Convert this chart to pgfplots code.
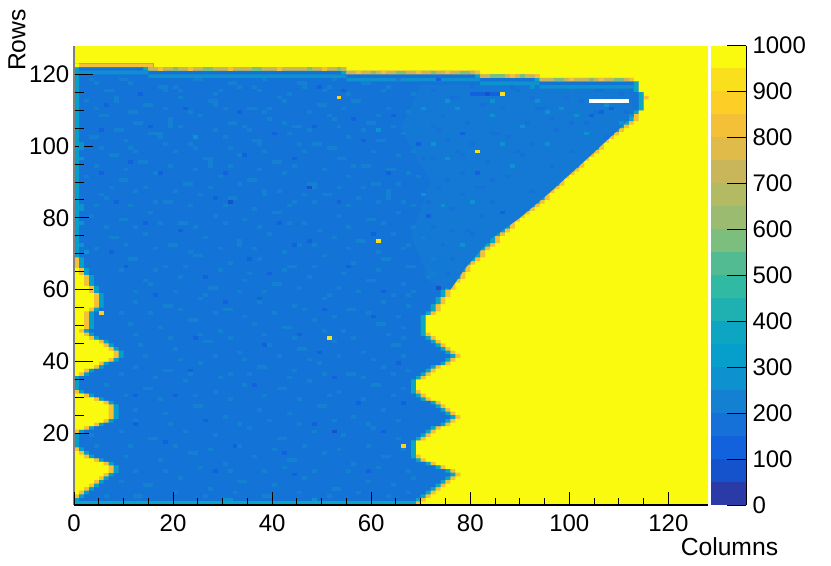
\documentclass[border=0pt]{standalone}
\usepackage{fontspec}
\setmainfont{Liberation Sans}
\usepackage{pgfplots}
\usepackage{pgfplotstable}
\pgfplotsset{compat=1.18}

% palette, 20 levels of 50
\definecolor{lv1}{HTML}{2A3BA8}
\definecolor{lv2}{HTML}{1553CC}
\definecolor{lv3}{HTML}{1162DC}
\definecolor{lv4}{HTML}{1571D8}
\definecolor{lv5}{HTML}{1380D2}
\definecolor{lv6}{HTML}{0D91CF}
\definecolor{lv7}{HTML}{069FCC}
\definecolor{lv8}{HTML}{0CA6C2}
\definecolor{lv9}{HTML}{1FB0B2}
\definecolor{lv10}{HTML}{30BAA4}
\definecolor{lv11}{HTML}{52BB92}
\definecolor{lv12}{HTML}{7BBE7E}
\definecolor{lv13}{HTML}{9BBC70}
\definecolor{lv14}{HTML}{B2BA64}
\definecolor{lv15}{HTML}{CAB65A}
\definecolor{lv16}{HTML}{E0BB49}
\definecolor{lv17}{HTML}{F4C037}
\definecolor{lv18}{HTML}{FDCE26}
\definecolor{lv19}{HTML}{FADF1C}
\definecolor{lv20}{HTML}{F9FA0E}
% what the fine mix of bins averages to, left and upper right
\definecolor{baseL}{HTML}{1473D7}
\definecolor{baseR}{HTML}{1479D5}

% one bin, its corner on the data point: 4.945 x 3.59 px at 0.75 pt/px
\pgfdeclareplotmark{cell}{%
  \pgfpathrectangle{\pgfpointorigin}{\pgfpoint{3.72pt}{2.7pt}}%
  \pgfusepathqfill}

% widths of the runs in each row: yellow, orange, teal, blue, teal, orange
\pgfplotstableread{
r yl og tl bl tr or
0 0 0 1 67 1 1
1 0 0 1 68 1 1
2 0 1 1 68 1 1
3 1 1 1 68 1 1
4 2 1 1 68 1 1
5 3 1 1 68 1 1
6 4 1 1 68 1 1
7 5 1 1 68 1 1
8 6 1 1 68 1 1
9 7 1 1 66 1 1
10 7 1 1 64 1 1
11 6 1 1 63 1 1
12 4 1 1 63 1 1
13 2 1 1 64 1 1
14 1 1 1 65 1 0
15 0 1 1 66 1 0
16 0 0 1 67 1 0
17 0 0 1 67 1 0
18 0 0 1 68 1 1
19 0 0 1 69 1 1
20 0 1 1 69 1 1
21 2 1 1 68 1 1
22 4 1 1 68 1 1
23 6 1 1 67 1 1
24 7 1 1 67 1 1
25 7 1 1 66 1 1
26 7 1 1 65 1 1
27 7 1 1 64 1 1
28 6 1 1 64 1 1
29 4 1 1 64 1 1
30 2 1 1 65 1 1
31 0 1 1 66 1 1
32 0 0 1 67 1 0
33 0 0 1 67 1 0
34 0 0 1 67 1 0
35 0 0 1 68 1 1
36 1 1 1 67 1 1
37 2 1 1 67 1 1
38 4 1 1 66 1 1
39 5 1 1 67 1 1
40 7 1 1 66 1 1
41 8 1 1 66 1 1
42 8 1 1 65 1 1
43 7 1 1 65 1 1
44 6 1 1 65 1 1
45 5 1 1 65 1 1
46 3 1 1 66 1 1
47 2 1 1 66 1 1
48 1 1 1 67 1 0
49 2 1 1 66 1 0
50 2 1 1 66 1 0
51 2 1 1 66 1 0
52 2 1 1 66 1 0
53 2 1 1 67 1 1
54 3 1 1 67 1 1
55 4 1 1 66 1 1
56 4 1 1 67 1 1
57 4 1 1 67 1 1
58 4 1 1 68 1 1
59 3 1 1 69 1 1
60 3 1 1 70 1 1
61 2 1 1 71 1 1
62 2 1 1 72 1 1
63 2 1 1 73 1 1
64 1 1 1 74 1 1
65 1 1 1 75 1 1
66 0 1 1 76 1 1
67 0 1 1 77 1 1
68 0 1 1 78 1 1
69 0 0 1 80 1 1
70 0 0 1 80 1 1
71 0 0 1 81 1 1
72 0 0 1 82 1 1
73 0 0 1 83 1 1
74 0 0 1 83 1 1
75 0 0 1 84 1 1
76 0 0 1 85 1 1
77 0 0 1 86 1 1
78 0 0 1 86 1 1
79 0 0 1 87 1 1
80 0 0 1 88 1 1
81 0 0 1 89 1 1
82 0 0 1 90 1 1
83 0 0 1 91 1 1
84 0 0 1 92 1 1
85 0 0 1 93 1 1
86 0 0 1 93 1 1
87 0 0 1 94 1 1
88 0 0 1 95 1 1
89 0 0 1 96 1 1
90 0 0 1 96 1 1
91 0 0 1 97 1 1
92 0 0 1 98 1 1
93 0 0 1 99 1 1
94 0 0 1 100 1 1
95 0 0 1 100 1 1
96 0 0 1 101 1 1
97 0 0 1 102 1 1
98 0 0 1 103 1 1
99 0 0 1 104 1 1
100 0 0 1 104 1 1
101 0 0 1 105 1 1
102 0 0 1 106 1 1
103 0 0 1 107 1 1
104 0 0 1 108 1 1
105 0 0 1 109 1 1
106 0 0 1 110 1 1
107 0 0 1 111 1 1
108 0 0 1 111 1 1
109 0 0 1 112 1 0
110 0 0 1 113 1 0
111 0 0 1 113 1 0
112 0 0 1 113 1 0
113 0 0 1 113 1 1
114 0 0 1 113 1 0
115 0 0 1 112 1 0
116 0 0 1 112 1 0
117 0 0 1 112 1 0
118 0 0 1 92 1 19
119 0 0 1 80 1 12
120 0 0 1 53 1 26
121 0 0 1 13 1 40
122 1 15 0 0 0 0
}\rowruns

\begin{document}
\begin{tikzpicture}
\path[use as bounding box] (0,0) rectangle (623.25pt,424.5pt);

\begin{axis}[
    at={(55.5pt,45.75pt)}, anchor=south west,
    scale only axis, width=475.5pt, height=344.55pt,
    xmin=0, xmax=128, ymin=0, ymax=128,
    axis background/.style={fill=lv20},
    axis on top,
    axis x line*=bottom, axis y line*=left,
    x axis line style={-, black, line width=0.9pt},
    y axis line style={-, gray, line width=0.9pt},
    xtick={0,20,...,120}, ytick={20,40,...,120},
    xtick style={draw=none}, minor x tick num=0,
    minor y tick num=3,
    tick align=inside,
    major tick length=14.25pt, minor tick length=7.5pt,
    ytick style={black, line width=0.7pt},
    /pgf/number format/assume math mode=true,
    tick label style={font=\fontsize{18}{20}\selectfont},
    xticklabel style={yshift=-3.5pt},
    xlabel={Columns}, ylabel={Rows},
    label style={font=\fontsize{18.5}{20}\selectfont},
    xlabel style={at={(axis description cs:1.118,-0.091)}, anchor=east},
    ylabel style={at={(axis description cs:-0.09,1.012)}, anchor=center},
  ]
  % row runs, longest first so that each one paints over the one before
  \addplot[xbar, bar shift=0pt, bar width=1.04, draw=none, fill=lv17] table[y expr=\thisrow{r}+0.5, x expr=\thisrow{yl}+\thisrow{og}+\thisrow{tl}+\thisrow{bl}+\thisrow{tr}+\thisrow{or}] {\rowruns};
  \addplot[xbar, bar shift=0pt, bar width=1.04, draw=none, fill=lv8] table[y expr=\thisrow{r}+0.5, x expr=\thisrow{yl}+\thisrow{og}+\thisrow{tl}+\thisrow{bl}+\thisrow{tr}] {\rowruns};
  \addplot[xbar, bar shift=0pt, bar width=1.04, draw=none, fill=baseL] table[y expr=\thisrow{r}+0.5, x expr=\thisrow{yl}+\thisrow{og}+\thisrow{tl}+\thisrow{bl}] {\rowruns};
  \addplot[xbar, bar shift=0pt, bar width=1.04, draw=none, fill=lv7] table[y expr=\thisrow{r}+0.5, x expr=\thisrow{yl}+\thisrow{og}+\thisrow{tl}] {\rowruns};
  \addplot[xbar, bar shift=0pt, bar width=1.04, draw=none, fill=lv17] table[y expr=\thisrow{r}+0.5, x expr=\thisrow{yl}+\thisrow{og}] {\rowruns};
  \addplot[xbar, bar shift=0pt, bar width=1.04, draw=none, fill=lv20] table[y expr=\thisrow{r}+0.5, x=yl] {\rowruns};

  % the lighter upper right part
  \addplot[fill=baseR, draw=none] coordinates {(70,117)(112,117)(113,110)(111,106)(104,97)(96,87)(90,80)(84,74)(79,66)(76,60)(72,62)(68,75)(72,90)(66,105)} -- cycle;

  % bottom row, the strip under the top edge, the top edge itself
  \addplot[fill=lv8, draw=none] coordinates {(0,0)(69,0)(69,1)(0,1)} -- cycle;
  \addplot[fill=lv6, draw=none] coordinates {(1,121)(15,121)(15,120)(55,120)(55,119)(82,119)(82,118)(94,118)(94,117)(113,117)(113,116)(94,116)(94,117)(82,117)(82,118)(55,118)(55,119)(15,119)(15,120)(1,120)} -- cycle;
  \addplot[fill=lv15, draw=none] coordinates {(15,122)(55,122)(55,121)(82,121)(82,120)(94,120)(94,119)(113,119)(113,118)(94,118)(94,119)(82,119)(82,120)(55,120)(55,121)(15,121)} -- cycle;

  % lighter bins
  \addplot[only marks, mark=cell, lv5] coordinates {
    (3,118)(4,117)(9,118)(10,118)(11,117)(17,116)(18,116)(18,115)(24,118)(25,118)(31,117)(32,117)(33,116)(38,118)(45,117)(46,117)(46,116)(52,118)(58,117)(59,117)(65,118)
    (2,112)(8,113)(8,112)(14,111)(15,111)(21,113)(27,112)(28,112)(28,111)(35,110)(36,110)(41,113)(42,112)(49,111)(50,111)(56,112)(57,112)(63,110)
    (5,108)(6,108)(12,106)(13,106)(19,107)(19,106)(19,105)(25,108)(31,106)(32,106)(39,107)(44,105)(45,105)(51,108)(52,107)(59,106)(60,106)(64,105)
    (3,102)(4,102)(10,101)(16,103)(17,103)(17,102)(23,100)(30,102)(36,101)(37,101)(37,100)(43,103)(48,100)(49,100)(55,102)(61,101)(62,101)
    (7,97)(8,97)(13,95)(14,95)(20,98)(26,96)(27,96)(27,95)(27,94)(33,97)(40,95)(41,95)(46,98)(53,96)(54,96)(58,94)(59,94)(65,97)
    (2,91)(9,90)(10,90)(16,92)(22,89)(23,89)(29,91)(35,90)(36,90)(42,92)(47,89)(48,89)(48,88)(55,91)(60,89)(61,89)(67,92)
    (5,86)(6,85)(12,87)(18,84)(19,84)(25,86)(31,85)(32,85)(38,87)(38,86)(44,84)(50,86)(51,86)(57,85)(63,87)(63,86)(63,85)(66,84)
    (3,80)(9,79)(10,79)(15,81)(21,78)(22,78)(28,80)(34,79)(40,81)(41,81)(46,78)(53,80)(59,79)(60,79)(65,81)(67,58)
    (7,74)(8,74)(14,75)(19,72)(20,72)(26,74)(33,73)(33,72)(39,75)(45,72)(52,74)(57,73)(58,73)(64,75)(67,72)(70,74)
    (11,68)(12,68)(18,66)(24,69)(25,69)(31,67)(37,68)(43,66)(44,66)(50,69)(56,67)(62,68)(63,68)(68,66)(72,68)
    (14,62)(15,61)(21,63)(27,60)(28,60)(34,62)(40,61)(41,61)(47,63)(53,60)(59,62)(60,62)(66,61)(71,63)
    (12,56)(18,55)(19,55)(25,57)(30,54)(31,54)(37,56)(44,55)(50,57)(55,54)(56,54)(62,56)(67,55)
    (11,50)(17,49)(23,51)(24,51)(29,48)(36,50)(42,49)(43,49)(48,51)(54,48)(61,50)(62,50)(66,49)
    (13,44)(20,43)(26,45)(27,45)(33,42)(39,44)(45,43)(46,43)(52,45)(58,42)(64,44)(65,44)
    (12,38)(18,37)(19,37)(25,39)(31,36)(37,38)(38,38)(44,37)(49,39)(55,36)(56,36)(62,38)(67,37)
    (6,33)(14,32)(15,32)(22,34)(28,31)(34,33)(41,32)(42,32)(47,34)(53,31)(60,33)(61,33)(66,32)
    (12,26)(18,25)(24,27)(25,27)(30,24)(37,26)(43,25)(49,27)(50,27)(56,24)(62,26)
    (3,19)(9,20)(15,18)(16,18)(22,20)(28,19)(35,21)(41,18)(42,18)(48,20)(54,19)(60,21)(65,18)
    (10,13)(17,12)(23,14)(24,14)(30,11)(36,13)(43,12)(44,12)(50,14)(56,11)(62,13)(63,13)
    (9,6)(14,5)(15,5)(21,7)(27,4)(33,6)(34,6)(40,5)(46,7)(52,4)(53,4)(59,6)(64,5)(68,7)
    (6,2)(12,2)(13,2)(20,3)(26,2)(32,3)(38,2)(39,2)(45,3)(51,2)(57,3)(63,2)(67,3)
    (6,115)(7,115)(13,114)(20,116)(21,115)(28,114)(29,115)(36,116)(37,115)(43,114)(50,115)(51,116)(55,114)(62,115)(63,116)(68,114)
    (4,110)(11,109)(12,109)(18,110)(23,109)(30,110)(38,109)(39,110)(47,109)(54,110)(61,108)(67,109)
    (8,104)(9,104)(15,103)(21,105)(28,104)(34,105)(35,104)(42,106)(47,104)(53,105)(58,104)(66,103)
    (5,99)(11,99)(12,98)(18,100)(24,99)(31,99)(38,98)(45,100)(51,99)(52,99)(60,98)(68,98)
    (4,94)(10,93)(19,94)(24,93)(31,94)(37,93)(44,94)(50,93)(56,94)(63,93)(64,93)
    (7,88)(14,88)(20,87)(27,88)(33,89)(41,87)(46,86)(53,88)(58,88)(65,89)(69,91)
    (4,83)(11,83)(16,84)(23,83)(30,83)(36,82)(43,83)(48,84)(55,83)(61,84)(68,83)
    (6,77)(12,77)(17,78)(24,77)(30,78)(37,77)(43,78)(49,76)(55,77)(62,78)(68,77)
    (4,71)(10,72)(16,71)(23,70)(29,71)(36,71)(42,70)(48,72)(55,71)(61,70)(66,71)
    (9,65)(16,65)(22,66)(29,65)(35,64)(42,65)(48,66)(54,64)(61,65)(67,66)(72,64)
    (12,59)(20,59)(26,58)(33,59)(38,59)(45,60)(51,58)(57,59)(64,58)(68,59)
    (9,53)(15,53)(21,54)(28,53)(34,52)(40,53)(46,54)(52,52)(59,53)(65,52)
    (12,47)(19,46)(25,47)(31,46)(38,47)(44,46)(50,48)(56,46)(63,47)(66,46)
    (14,41)(21,40)(28,41)(34,40)(41,41)(47,40)(53,41)(60,40)(66,41)
    (9,36)(16,35)(23,36)(29,35)(35,36)(43,35)(50,36)(58,35)(64,36)
    (10,30)(17,29)(24,30)(31,29)(38,30)(45,29)(51,30)(58,29)(64,30)
    (12,23)(19,22)(26,23)(33,22)(39,23)(45,22)(52,23)(59,22)(65,23)
    (4,16)(11,16)(20,16)(27,15)(33,16)(40,15)(46,16)(53,15)(59,16)(66,15)
    (12,9)(18,9)(25,10)(31,9)(38,9)(42,10)(48,9)(55,9)(61,10)(67,9)
  };
  % a few brighter ones along the left edge and in the upper right
  \addplot[only marks, mark=cell, lv6] coordinates {
    (1,100)(1,99)(1,96)(1,83)(1,82)(1,78)(1,72)(2,70)(30,1)(31,1)(48,1)(24,102)(61,104)(93,112)(95,109)(101,108)(110,106)(112,108)(95,100)(75,112)(77,110)(84,108)(86,100)(75,96)(74,83)(70,86)
    (84,112)(90,105)(98,110)(103,103)(107,111)(88,94)(80,84)(72,100)(92,116)(100,116)(78,72)(70,110)
  };
  % darker bins in the lighter part and elsewhere
  \addplot[only marks, mark=cell, lv4] coordinates {
    (72,115)(76,113)(77,113)(82,111)(88,116)(89,115)(93,110)(94,110)(99,113)(105,115)(106,115)(110,114)(111,109)(72,105)(73,104)(79,106)(84,103)(85,103)(91,106)(97,104)(103,106)(107,102)(72,96)(77,98)(78,97)(83,95)(89,98)(90,97)(96,94)(100,98)(75,90)(81,88)(82,88)(87,91)(92,87)(71,84)(76,82)(84,84)(79,76)(80,75)(74,72)(76,68)(75,64)
    (74,108)(80,116)(86,110)(92,113)(96,107)(102,112)(75,101)(80,100)(87,102)(92,100)(78,92)(84,90)(73,88)(78,86)(82,80)(72,77)(76,76)(100,106)(105,109)(69,68)(70,96)
  };
  \addplot[only marks, mark=cell, lv3] coordinates {
    (5,104)(17,92)(28,85)(41,78)(55,66)(62,59)(24,46)(36,33)(48,22)(59,9)(12,30)(44,96)(33,109)(13,114)(21,76)(52,35)(65,39)(18,17)(39,64)(63,92)(10,66)(30,56)(44,8)(73,118)(81,92)(86,81)(78,103)(56,107)(47,73)(26,23)(15,105)(38,44)(54,115)(69,100)(8,84)(23,37)(50,54)(66,28)(34,97)(6,111)(60,75)(42,14)(104,108)(108,110)(106,109)(71,80)(48,105)
    (11,95)(22,110)(30,92)(49,116)(58,101)(7,70)(16,58)(35,68)(45,47)(57,28)(20,30)(32,16)(60,52)(14,78)(40,103)(26,63)(64,108)(53,84)(12,22)(37,57)(49,42)(28,9)(62,20)(44,72)(5,92)
  };
  % the dark streak, the bins that read high, the empty run
  \addplot[only marks, mark=cell, lv3] coordinates {(80,114)(81,114)(82,114)(84,114)(85,114)};
  \addplot[only marks, mark=cell, lv2] coordinates {(83,114)(47,88)(73,60)(52,20)(31,84)};
  \addplot[only marks, mark=cell, lv19] coordinates {(86,114)(81,98)(61,73)(51,46)};
  \addplot[only marks, mark=cell, lv18] coordinates {(53,113)(66,16)(5,53)};
  \addplot[only marks, mark=cell, lv12] coordinates {(97,118)(98,118)(104,118)(109,118)(110,118)(84,119)(85,119)(86,119)(90,119)(60,120)(65,120)(66,120)(72,120)(78,120)(79,120)(20,121)(26,121)(27,121)(36,121)(37,121)(47,121)(53,121)};
  \addplot[only marks, mark=cell, lv17] coordinates {(100,118)(106,118)(112,118)(88,119)(93,119)(57,120)(62,120)(69,120)(75,120)(81,120)(17,121)(23,121)(31,121)(41,121)(50,121)};
  \addplot[only marks, mark=cell, white] coordinates {(104,112)(105,112)(106,112)(107,112)(108,112)(109,112)(110,112)(111,112)};
\end{axis}

% x ticks are shorter than the y ticks
\begin{axis}[
    at={(55.5pt,45.75pt)}, anchor=south west,
    scale only axis, width=475.5pt, height=344.55pt,
    xmin=0, xmax=128, ymin=0, ymax=128,
    axis x line*=bottom, hide y axis,
    x axis line style={-, black, line width=0.9pt},
    xtick={0,20,...,120}, minor x tick num=3, xticklabels={},
    tick align=inside,
    major tick length=9.75pt, minor tick length=5.25pt,
    xtick style={black, line width=0.7pt},
  ]
  \addplot[draw=none, forget plot] coordinates {(0,0)};
\end{axis}

% colour scale
\begin{axis}[
    at={(533.25pt,45.75pt)}, anchor=south west,
    scale only axis, width=26.6pt, height=344.55pt,
    xmin=0, xmax=1, ymin=0, ymax=1000,
    ybar stacked, bar width=1, bar shift=0pt,
    axis on top,
    axis y line*=right, hide x axis,
    y axis line style={-, black, line width=0.9pt},
    ytick={0,100,...,1000},
    tick align=inside, major tick length=14.25pt,
    ytick style={black, line width=0.7pt},
    /pgf/number format/assume math mode=true,
    /pgf/number format/1000 sep={},
    tick label style={font=\fontsize{18}{20}\selectfont},
    yticklabel style={xshift=1pt},
    every axis plot/.append style={line width=0.1pt},
  ]
  \addplot[fill=lv1,draw=lv1] coordinates {(0.5,50)};
  \addplot[fill=lv2,draw=lv2] coordinates {(0.5,50)};
  \addplot[fill=lv3,draw=lv3] coordinates {(0.5,50)};
  \addplot[fill=lv4,draw=lv4] coordinates {(0.5,50)};
  \addplot[fill=lv5,draw=lv5] coordinates {(0.5,50)};
  \addplot[fill=lv6,draw=lv6] coordinates {(0.5,50)};
  \addplot[fill=lv7,draw=lv7] coordinates {(0.5,50)};
  \addplot[fill=lv8,draw=lv8] coordinates {(0.5,50)};
  \addplot[fill=lv9,draw=lv9] coordinates {(0.5,50)};
  \addplot[fill=lv10,draw=lv10] coordinates {(0.5,50)};
  \addplot[fill=lv11,draw=lv11] coordinates {(0.5,50)};
  \addplot[fill=lv12,draw=lv12] coordinates {(0.5,50)};
  \addplot[fill=lv13,draw=lv13] coordinates {(0.5,50)};
  \addplot[fill=lv14,draw=lv14] coordinates {(0.5,50)};
  \addplot[fill=lv15,draw=lv15] coordinates {(0.5,50)};
  \addplot[fill=lv16,draw=lv16] coordinates {(0.5,50)};
  \addplot[fill=lv17,draw=lv17] coordinates {(0.5,50)};
  \addplot[fill=lv18,draw=lv18] coordinates {(0.5,50)};
  \addplot[fill=lv19,draw=lv19] coordinates {(0.5,50)};
  \addplot[fill=lv20,draw=lv20] coordinates {(0.5,50)};
\end{axis}
\end{tikzpicture}
\end{document}
